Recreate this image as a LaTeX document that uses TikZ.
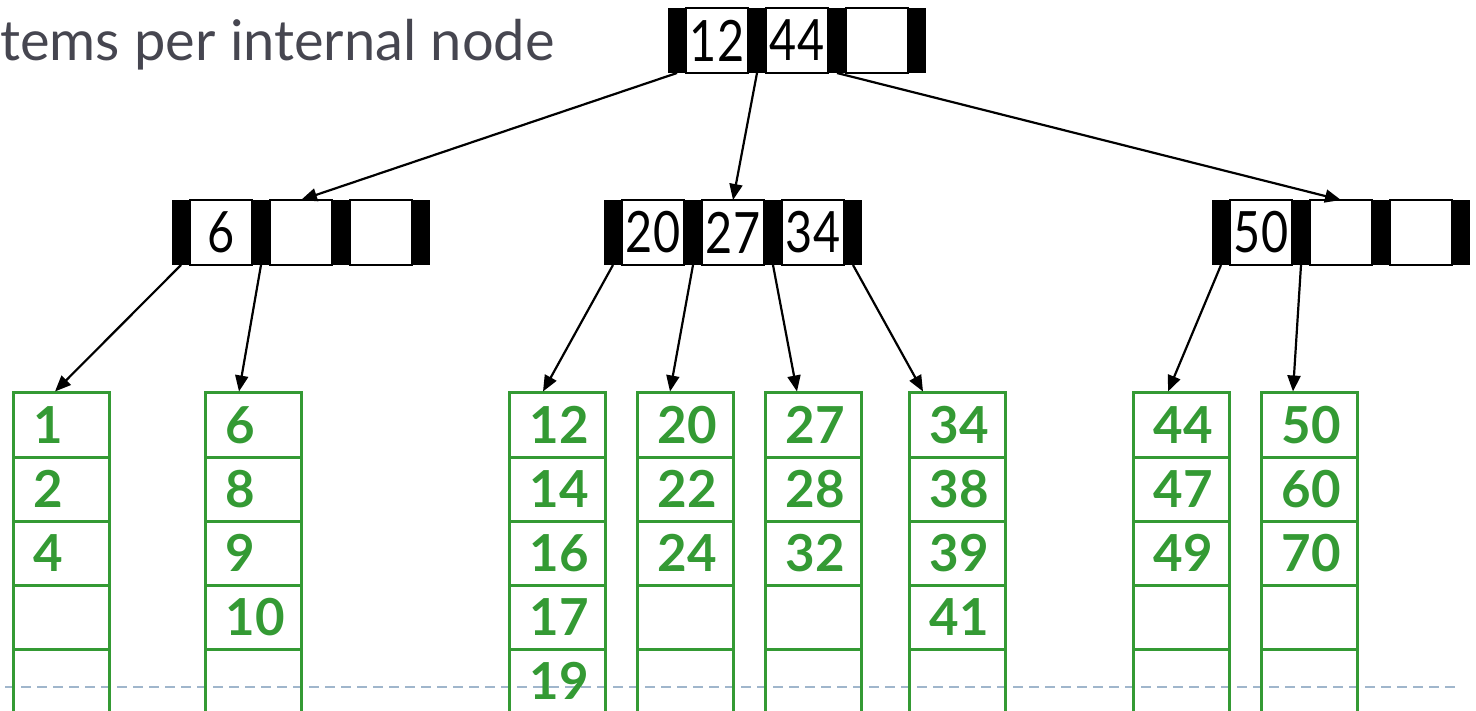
\documentclass[tikz,border=0pt]{standalone}
\usepackage{fontspec}
\setmainfont{Lato}
\newfontfamily\keyfont[FakeStretch=0.82]{Lato}
\usetikzlibrary{arrows.meta, positioning}
\definecolor{leafgreen}{RGB}{52,154,52}
\definecolor{titlegray}{RGB}{70,70,80}
\definecolor{sepblue}{RGB}{160,182,204}

\begin{document}
\begin{tikzpicture}[
    x=1pt, y=-1pt,
    >={Triangle[length=16pt, width=13pt]},
    title/.style={font=\fontsize{56}{56}\selectfont, text=titlegray, inner sep=0pt},
    bar/.style={fill=black, minimum width=18pt, minimum height=65pt, inner sep=0pt, outer sep=0pt},
    key/.style={draw, line width=2pt, minimum width=62pt, minimum height=65pt, inner sep=0pt, outer sep=0pt, font=\keyfont\fontsize{57}{57}\selectfont},
    leaf/.style={draw=leafgreen, line width=3pt, minimum width=96pt, minimum height=64pt, inner sep=0pt},
    val/.style={font=\bfseries\fontsize{51}{51}\selectfont, text=leafgreen, inner sep=0pt},
    arr/.style={->, line width=2.2pt},
    sep/.style={draw=sepblue, line width=2pt, dash pattern=on 10pt off 6pt},
]
\useasboundingbox (0,0) rectangle (1476,711);
% ----- the separator line and the heading
\draw[sep] (5,687) -- (1455,687);
\node[title, anchor=base west] (ttl) at (0,61) {tems per internal node};
% ----- internal nodes: three keys between four pointer bars
\foreach \nm/\x/\y/\ka/\kb/\kc in {rt/668/8/12/44/{}, n1/172/200/6/{}/{}, n2/604/200/20/27/34, n3/1212/200/50/{}/{}} {
  \node[key] (\nm-c1) at (\x+49, \y+32.5) {\ka};
  \node[key] (\nm-c2) at (\x+129, \y+32.5) {\kb};
  \node[key] (\nm-c3) at (\x+209, \y+32.5) {\kc};
  \foreach \k in {0,...,3} { \node[bar] (\nm-b\k) at (\x+9+80*\k, \y+32.5) {}; }
}
% ----- leaves: five slots each, cut off by the page edge
\foreach \nm/\x/\dx/\vals in {l1/13/-6/{1,2,4}, l2/205/-14/{6,8,9,10}, l3/509/-14/{12,14,16,17,19}, l4/637/-15/{20,22,24},
                              l5/765/-16/{27,28,32}, l6/909/-34/{34,38,39,41}, l7/1133/-13/{44,47,49}, l8/1261/-16/{50,60,70}} {
  \foreach \r in {1,...,5} { \node[leaf] (\nm-\r) at (\x+48, 361+64*\r) {}; }
  \foreach \v [count=\r] in \vals { \node[val, anchor=west] (\nm-t\r) at ([xshift=22pt]\nm-\r.west) {\v}; }
  \coordinate (\nm-in) at ([xshift=\dx pt]\nm-1.north);
}
% ----- pointers
\draw[arr] (rt-b0.south) -- (n1-c2.north);
\draw[arr] (rt-b1.south) -- (n2-c2.north);
\draw[arr] (rt-b2.south) -- (n3-c2.north);
\foreach \a/\b in {n1-b0/l1, n1-b1/l2, n2-b0/l3, n2-b1/l4, n2-b2/l5, n2-b3/l6, n3-b0/l7, n3-b1/l8} {
  \draw[arr] (\a.south) -- (\b-in);
}
\end{tikzpicture}
\end{document}
